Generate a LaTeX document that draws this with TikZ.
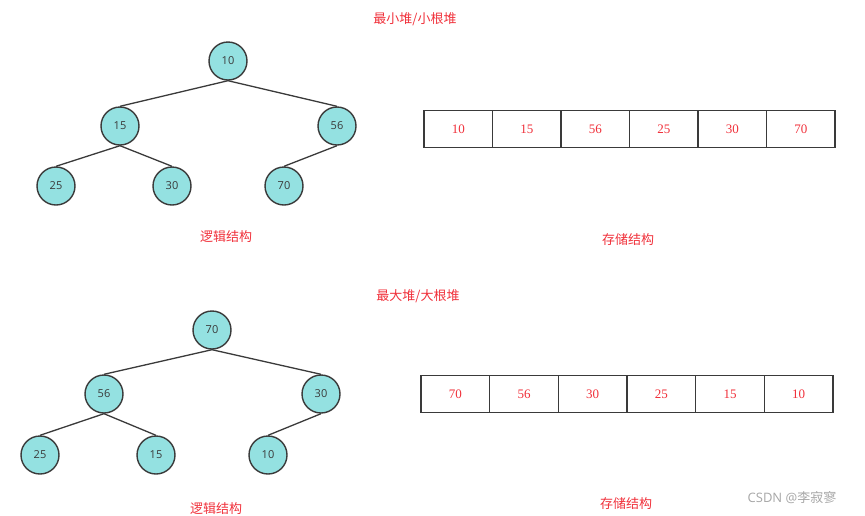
\documentclass[tikz,border=0pt]{standalone}
\usepackage{fontspec}
\setmainfont{Liberation Serif}
\setsansfont{Open Sans}
\newfontfamily\cjk{Noto Sans CJK SC}
\begin{document}
\definecolor{nodefill}{HTML}{94E1E1}
\definecolor{edgegray}{HTML}{3A3A3A}
\definecolor{redtext}{HTML}{F0303A}
\begin{tikzpicture}[x=1pt,y=-1pt,
  hnode/.style={circle,draw=edgegray,line width=1.4pt,fill=nodefill,minimum size=38pt,inner sep=0pt,
    font=\sffamily\fontsize{11}{13}\selectfont,text=edgegray},
  hedge/.style={draw=edgegray,line width=1.3pt},
  cellbox/.style={rectangle,draw=edgegray,line width=1.3pt,minimum height=37pt,inner sep=0pt,outer sep=0pt,
    anchor=west,font=\fontsize{13}{15}\selectfont,text=redtext},
  redlabel/.style={font=\cjk\fontsize{13}{15}\selectfont,text=redtext}]
\useasboundingbox (0,0) rectangle (865,515);
% ---- top: min heap
\node[redlabel] (t1) at (415,19) {最小堆/小根堆};
\node[hnode] (a10) at (228,61) {10};
\node[hnode] (a15) at (120,126) {15};
\node[hnode] (a56) at (337,126) {56};
\node[hnode] (a25) at (56,186) {25};
\node[hnode] (a30) at (172,186) {30};
\node[hnode] (a70) at (284,186) {70};
\draw[hedge] (a10.south) -- (a15.north);
\draw[hedge] (a10.south) -- (a56.north);
\draw[hedge] (a15.south) -- (a25.north);
\draw[hedge] (a15.south) -- (a30.north);
\draw[hedge] (a56.south) -- (a70.north);
\node[redlabel] (l1) at (226,237) {逻辑结构};
\foreach \v [count=\i from 0] in {10,15,56,25,30,70}{
  \node[cellbox,minimum width=68.5pt] (c\i) at ({424+68.5*\i},129) {\v};
}
\node[redlabel] (s1) at (628,240) {存储结构};
% ---- bottom: max heap
\node[redlabel] (t2) at (418,296) {最大堆/大根堆};
\node[hnode] (b70) at (212,330) {70};
\node[hnode] (b56) at (104,394) {56};
\node[hnode] (b30) at (321,394) {30};
\node[hnode] (b25) at (40,455) {25};
\node[hnode] (b15) at (156,455) {15};
\node[hnode] (b10) at (268,455) {10};
\draw[hedge] (b70.south) -- (b56.north);
\draw[hedge] (b70.south) -- (b30.north);
\draw[hedge] (b56.south) -- (b25.north);
\draw[hedge] (b56.south) -- (b15.north);
\draw[hedge] (b30.south) -- (b10.north);
\node[redlabel] (l2) at (216,509) {逻辑结构};
\foreach \v [count=\i from 0] in {70,56,30,25,15,10}{
  \node[cellbox,minimum width=68.67pt] (d\i) at ({421+68.67*\i},394) {\v};
}
\node[redlabel] (s2) at (626,504) {存储结构};
\node[font=\sffamily\fontsize{13}{15}\selectfont,text=black!35] (wm) at (792,498) {CSDN @{\cjk 李寂寥}};
\end{tikzpicture}
\end{document}
